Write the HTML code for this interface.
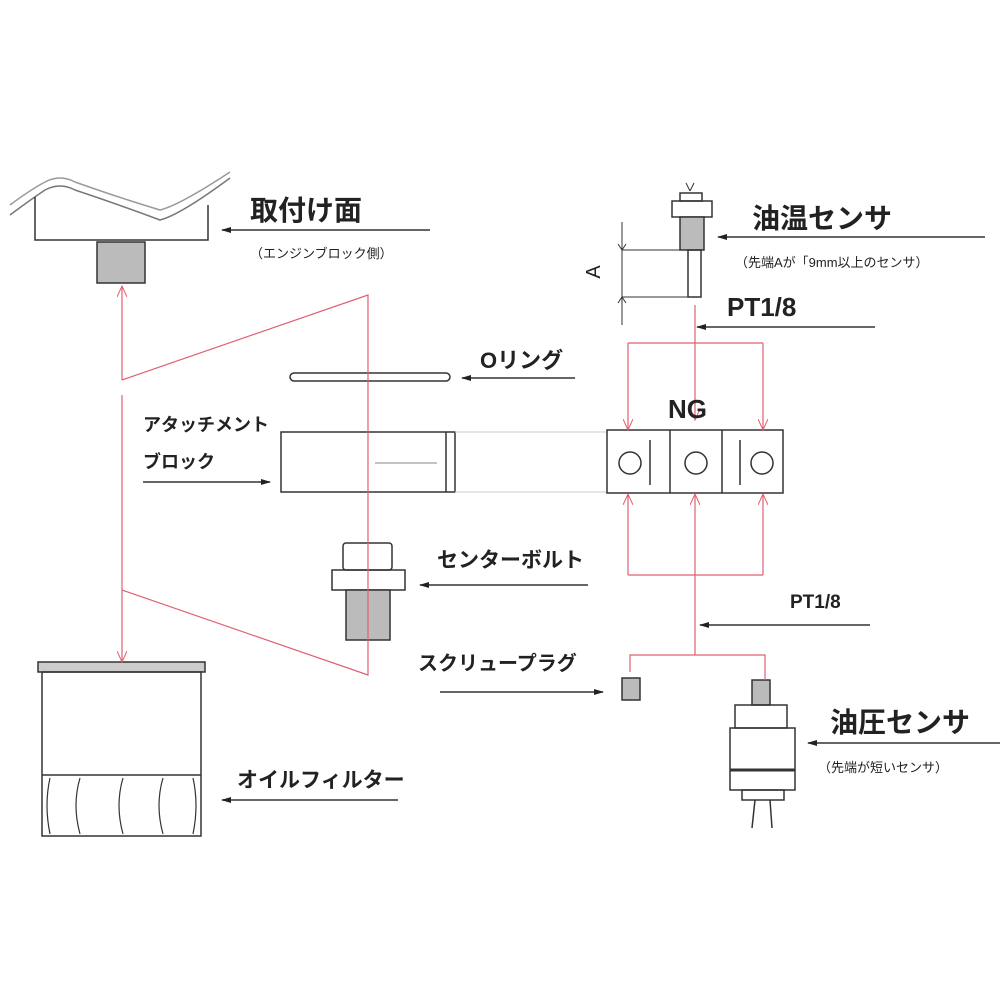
<!DOCTYPE html>
<html><head><meta charset="utf-8"><style>
body{margin:0;background:#fff}
svg{display:block}
text{font-family:"Liberation Sans","Noto Sans CJK JP",sans-serif;font-weight:bold;fill:#222}
.s{font-weight:normal}
</style></head><body>
<svg width="1000" height="1000" viewBox="0 0 1000 1000" xmlns="http://www.w3.org/2000/svg">
<defs>
<marker id="ab" markerWidth="10" markerHeight="8" refX="9" refY="4" orient="auto" markerUnits="userSpaceOnUse"><path d="M0,1 L10,4 L0,7z" fill="#222"/></marker>
<marker id="ar" markerWidth="12" markerHeight="10" refX="11" refY="5" orient="auto" markerUnits="userSpaceOnUse"><path d="M0,0 L11,5 L0,10" fill="none" stroke="#e06070" stroke-width="1"/></marker>
</defs>
<g fill="none" stroke="#333" stroke-width="1.5">
<path d="M10,215 Q30,200 45,190 Q60,182 75,190 Q120,205 160,220 Q180,215 230,178" stroke="#777"/>
<path d="M10,205 Q30,190 45,182 Q60,174 75,182 Q120,198 160,210 Q180,205 230,172" stroke="#999"/>
<path d="M35,197 L35,240 L208,240 L208,205"/>
<rect x="97" y="242" width="48" height="41" fill="#bbb"/>
<rect x="290" y="373" width="160" height="8" rx="4"/>
<rect x="281" y="432" width="174" height="60"/>
<line x1="446" y1="432" x2="446" y2="492"/>
<line x1="375" y1="463" x2="437" y2="463" stroke="#888" stroke-width="1"/>
<line x1="455" y1="432" x2="607" y2="432" stroke="#ccc" stroke-width="1"/>
<line x1="455" y1="492" x2="607" y2="492" stroke="#ccc" stroke-width="1"/>
<rect x="607" y="430" width="176" height="63"/>
<line x1="670" y1="430" x2="670" y2="493"/>
<line x1="722" y1="430" x2="722" y2="493"/>
<line x1="650" y1="440" x2="650" y2="485"/>
<line x1="740" y1="440" x2="740" y2="485"/>
<circle cx="630" cy="463" r="11"/>
<circle cx="696" cy="463" r="11"/>
<circle cx="762" cy="463" r="11"/>
<path d="M686,183 l4,8 M694,183 l-4,8" stroke-width="1"/>
<rect x="680" y="193" width="22" height="8"/>
<rect x="672" y="201" width="40" height="16"/>
<rect x="680" y="217" width="24" height="33" fill="#bbb"/>
<rect x="688" y="250" width="13" height="47"/>
<line x1="622" y1="222" x2="622" y2="325" stroke-width="1"/>
<line x1="622" y1="250" x2="688" y2="250" stroke-width="1"/>
<line x1="622" y1="297" x2="688" y2="297" stroke-width="1"/>
<path d="M618,244 L622,250 L626,244 M618,303 L622,297 L626,303" stroke-width="1"/>
<rect x="343" y="543" width="49" height="27" rx="3"/>
<rect x="332" y="570" width="73" height="20"/>
<rect x="346" y="590" width="44" height="50" fill="#bbb"/>
<rect x="622" y="678" width="18" height="22" fill="#bbb"/>
<rect x="752" y="680" width="18" height="25" fill="#bbb"/>
<rect x="735" y="705" width="52" height="23"/>
<rect x="730" y="728" width="65" height="62"/>
<line x1="730" y1="770" x2="795" y2="770" stroke-width="3"/>
<rect x="742" y="790" width="42" height="10"/>
<path d="M755,800 L752,828 M770,800 L772,828"/>
<rect x="38" y="662" width="167" height="10" fill="#ccc"/>
<rect x="42" y="672" width="159" height="164"/>
<path d="M42,775 L201,775"/>
<path d="M80,778 Q72,805 80,834 M123,778 Q115,805 123,834 M163,778 Q155,805 163,834 M50,778 Q44,805 50,834 M193,778 Q199,805 193,834" stroke-width="1.2"/>
</g>
<g fill="none" stroke="#e06070" stroke-width="1.2">
<line x1="122" y1="380" x2="122" y2="286" marker-end="url(#ar)"/>
<path d="M122,380 L368,295 L368,675 L122,590"/>
<line x1="122" y1="395" x2="122" y2="662" marker-end="url(#ar)"/>
<line x1="695" y1="305" x2="695" y2="420" marker-end="url(#ar)"/>
<path d="M628,343 L763,343"/>
<line x1="628" y1="343" x2="628" y2="430" marker-end="url(#ar)"/>
<line x1="763" y1="343" x2="763" y2="430" marker-end="url(#ar)"/>
<line x1="628" y1="575" x2="628" y2="494" marker-end="url(#ar)"/>
<line x1="695" y1="575" x2="695" y2="494" marker-end="url(#ar)"/>
<line x1="763" y1="575" x2="763" y2="494" marker-end="url(#ar)"/>
<path d="M628,575 L763,575 M695,575 L695,655 M630,672 L630,655 L765,655 L765,680"/>
</g>
<g stroke="#333" stroke-width="1.5" fill="none">
<line x1="430" y1="230" x2="222" y2="230" marker-end="url(#ab)"/>
<line x1="575" y1="378" x2="462" y2="378" marker-end="url(#ab)"/>
<line x1="143" y1="482" x2="270" y2="482" marker-end="url(#ab)"/>
<line x1="985" y1="237" x2="718" y2="237" marker-end="url(#ab)"/>
<line x1="875" y1="327" x2="697" y2="327" marker-end="url(#ab)"/>
<line x1="588" y1="585" x2="420" y2="585" marker-end="url(#ab)"/>
<line x1="440" y1="692" x2="603" y2="692" marker-end="url(#ab)"/>
<line x1="870" y1="625" x2="700" y2="625" marker-end="url(#ab)"/>
<line x1="1000" y1="743" x2="808" y2="743" marker-end="url(#ab)"/>
<line x1="398" y1="800" x2="222" y2="800" marker-end="url(#ab)"/>
</g>
<text x="250" y="220" font-size="28">取付け面</text>
<text x="250" y="258" font-size="13" class="s">（エンジンブロック側）</text>
<text x="480" y="368" font-size="22">Oリング</text>
<text x="143" y="431" font-size="18">アタッチメント</text>
<text x="143" y="468" font-size="18">ブロック</text>
<text x="668" y="418" font-size="26">NG</text>
<text x="752" y="228" font-size="28">油温センサ</text>
<text x="735" y="267" font-size="13" class="s">（先端Aが「9mm以上のセンサ）</text>
<text x="727" y="316" font-size="26">PT1/8</text>
<text x="600" y="272" font-size="20" class="s" transform="rotate(-90 600 272)" text-anchor="middle">A</text>
<text x="437" y="567" font-size="21">センターボルト</text>
<text x="418" y="670" font-size="20">スクリュープラグ</text>
<text x="790" y="608" font-size="19">PT1/8</text>
<text x="830" y="732" font-size="28">油圧センサ</text>
<text x="818" y="772" font-size="13" class="s">（先端が短いセンサ）</text>
<text x="237" y="787" font-size="21">オイルフィルター</text>
</svg>
</body></html>
